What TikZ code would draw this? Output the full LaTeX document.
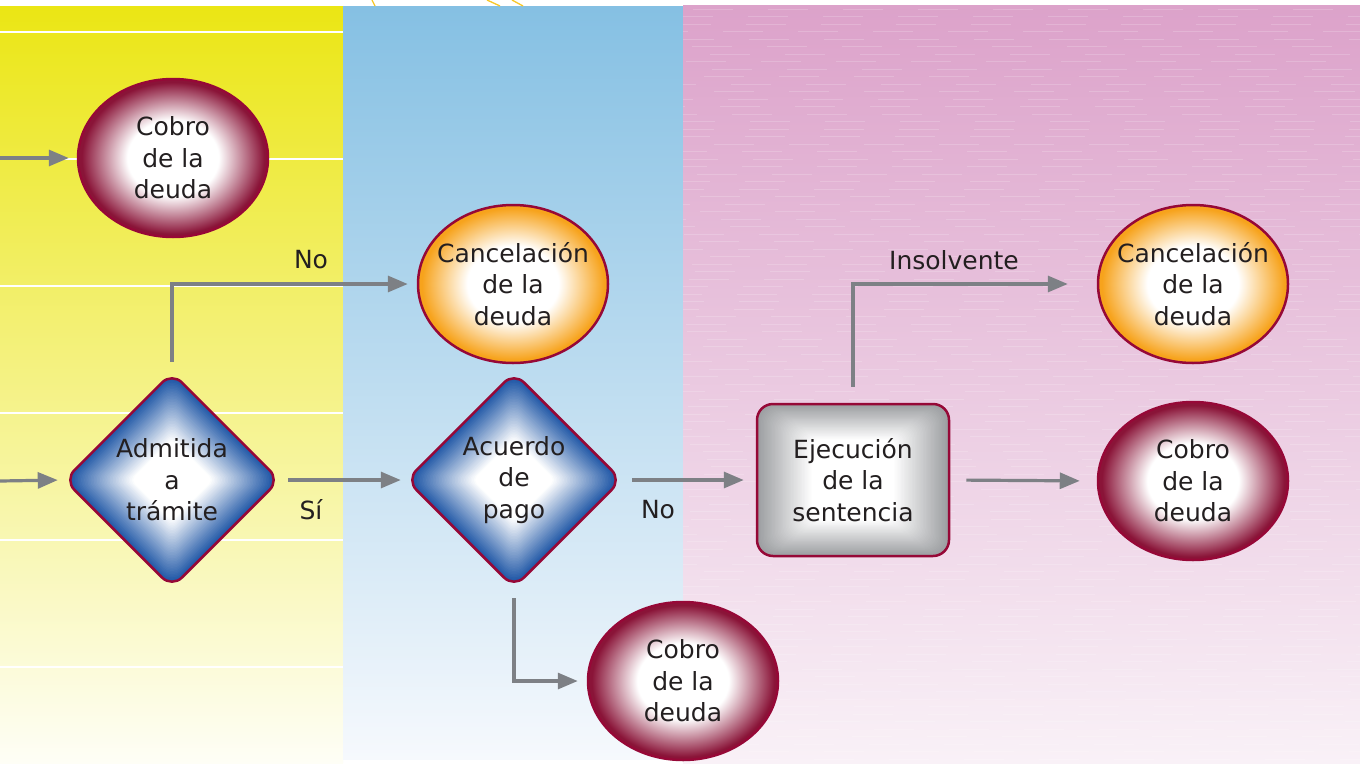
\documentclass[tikz,border=0pt]{standalone}
\usepackage{fontspec}
\setmainfont{DejaVu Sans}
\usetikzlibrary{shapes.geometric,arrows.meta,calc}
\definecolor{ybtop}{RGB}{235,230,20}
\definecolor{ybbot}{RGB}{254,254,246}
\definecolor{bltop}{RGB}{133,192,227}
\definecolor{blbot}{RGB}{246,249,253}
\definecolor{pktop}{RGB}{220,162,202}
\definecolor{pkbot}{RGB}{249,241,247}
\definecolor{bord}{RGB}{150,8,55}
\definecolor{dred}{RGB}{138,20,56}
\definecolor{orng}{RGB}{247,163,28}
\definecolor{dblue}{RGB}{30,86,166}
\definecolor{gry}{RGB}{155,157,160}
\definecolor{arrc}{RGB}{125,128,133}
\definecolor{txtc}{RGB}{35,31,32}
\definecolor{ray}{RGB}{248,200,40}
\pgfdeclareradialshading{redball}{\pgfpoint{0bp}{0bp}}{color(0bp)=(white); color(12bp)=(white); color(24bp)=(dred); color(50bp)=(dred)}
\pgfdeclareradialshading{orangeball}{\pgfpoint{0bp}{0bp}}{color(0bp)=(white); color(12bp)=(white); color(24bp)=(orng); color(50bp)=(orng)}
\tikzset{
  txtfont/.style={font=\fontsize{25}{31.5}\selectfont, text=txtc},
  txt/.style={txtfont, align=center, inner sep=0pt},
  redell/.style={ellipse, minimum width=190pt, minimum height=158pt, inner sep=0pt,
    draw=bord, line width=2.5pt, shade, shading=redball},
  orell/.style={ellipse, minimum width=190pt, minimum height=158pt, inner sep=0pt,
    draw=bord, line width=2.5pt, shade, shading=orangeball},
  dia/.style={diamond, aspect=1, minimum width=216pt, minimum height=216pt, inner sep=0pt,
    draw=bord, line width=2.5pt, rounded corners=14pt, align=center, txtfont,
    path picture={
      \foreach \ii in {0,...,40}{
        \pgfmathsetmacro\dsz{108*(1-0.62*\ii/40)}
        \pgfmathsetmacro\drc{14*(1-0.62*\ii/40)}
        \pgfmathtruncatemacro\dpc{100-2.5*\ii}
        \fill[dblue!\dpc!white, rounded corners=\drc pt]
          (path picture bounding box.center) ++(0pt,\dsz pt) -- ++(\dsz pt,-\dsz pt)
          -- ++(-\dsz pt,-\dsz pt) -- ++(-\dsz pt,\dsz pt) -- cycle;
      }
    }},
  rct/.style={rectangle, minimum width=192pt, minimum height=152pt, inner sep=0pt,
    draw=bord, line width=2.5pt, rounded corners=16pt, align=center, txtfont,
    path picture={
      \foreach \ii in {0,...,40}{
        \pgfmathsetmacro\rw{96*(1-0.57*\ii/40)}
        \pgfmathsetmacro\rh{76*(1-0.47*\ii/40)}
        \pgfmathsetmacro\rww{2*\rw}
        \pgfmathsetmacro\rhh{2*\rh}
        \pgfmathsetmacro\rrc{16*(1-0.5*\ii/40)}
        \pgfmathtruncatemacro\rpc{100-2.5*\ii}
        \fill[gry!\rpc!white, rounded corners=\rrc pt]
          (path picture bounding box.center) ++(-\rw pt,-\rh pt) rectangle ++(\rww pt,\rhh pt);
      }
    }},
  arr/.style={draw=arrc, line width=3.2pt, -{Triangle[length=20pt,width=16pt]}},
  lbl/.style={txtfont, inner sep=0pt}
}
\begin{document}
\begin{tikzpicture}[x=1pt,y=-1pt]
\useasboundingbox (0,0) rectangle (1360,763);
\fill[white] (0,0) rectangle (1360,763);
% background panels
\shade[top color=ybtop, bottom color=ybbot] (0,6) rectangle (343,763);
\shade[top color=bltop, bottom color=blbot] (343,6) rectangle (683,759);
\shade[top color=pktop, bottom color=pkbot] (683,5) rectangle (1360,763);
\foreach \yy in {32,159,286,413,540,667}{
  \draw[white, line width=1.5pt] (0,\yy) -- (343,\yy);
}
\pgfmathsetseed{7}
\foreach \yy in {9,16.5,...,760}{
  \pgfmathsetmacro\ph{rnd*75}
  \draw[white, opacity=0.18, line width=0.9pt, dash pattern=on 40pt off 35pt, dash phase=\ph pt]
    (683,\yy) -- (1360,\yy);
}
\draw[ray, line width=1.3pt] (372,0) -- (375,6);
\draw[ray, line width=1.3pt] (487,0) -- (500,6);
\draw[ray, line width=1.3pt] (512,0) -- (523,6);

% nodes
\node[redell] (cobro1) at (173,158) {};
\node[txt] (cobro1t) at (cobro1.center) {Cobro\\de la\\deuda};
\node[orell] (canc1) at (513,284) {};
\node[txt] (canc1t) at (canc1.center) {Cancelación\\de la\\deuda};
\node[dia] (adm) at (172,480) {Admitida\\a\\trámite};
\node[dia] (acu) at (514,480) {Acuerdo\\de\\pago};
\node[rct] (eje) at (853,480) {Ejecución\\de la\\sentencia};
\node[orell] (canc2) at (1193,284) {};
\node[txt] (canc2t) at (canc2.center) {Cancelación\\de la\\deuda};
\node[redell] (cobro2) at (1193,481) {};
\node[txt] (cobro2t) at (cobro2.center) {Cobro\\de la\\deuda};
\node[redell] (cobro3) at (683,681) {};
\node[txt] (cobro3t) at (cobro3.center) {Cobro\\de la\\deuda};

\coordinate (in1) at (0,158);
\coordinate (in2) at (0,481);

% connectors
\draw[arr, shorten >=8pt] (in1) -- (cobro1);
\draw[arr, shorten >=5pt] (in2) -- (adm.west);
\draw[arr, shorten <=9pt, shorten >=9pt] (adm.north) |- (canc1.west);
\draw[arr, shorten <=7pt, shorten >=4pt] (adm.east) -- (acu.west);
\draw[arr, shorten <=9pt, shorten >=12pt] (acu.east) -- (eje.west);
\draw[arr, shorten <=9pt, shorten >=9pt] (acu.south) |- (cobro3.west);
\draw[arr, shorten <=16pt, shorten >=29pt] (eje.north) |- (canc2.west);
\draw[arr, shorten <=16pt, shorten >=17pt] (eje.east) -- (cobro2.west);

% labels
\node[lbl] (lno1) at (311,260) {No};
\node[lbl] (lsi) at (311,510) {Sí};
\node[lbl] (lno2) at (658,510) {No};
\node[lbl] (lins) at (954,260) {Insolvente};
\end{tikzpicture}
\end{document}
